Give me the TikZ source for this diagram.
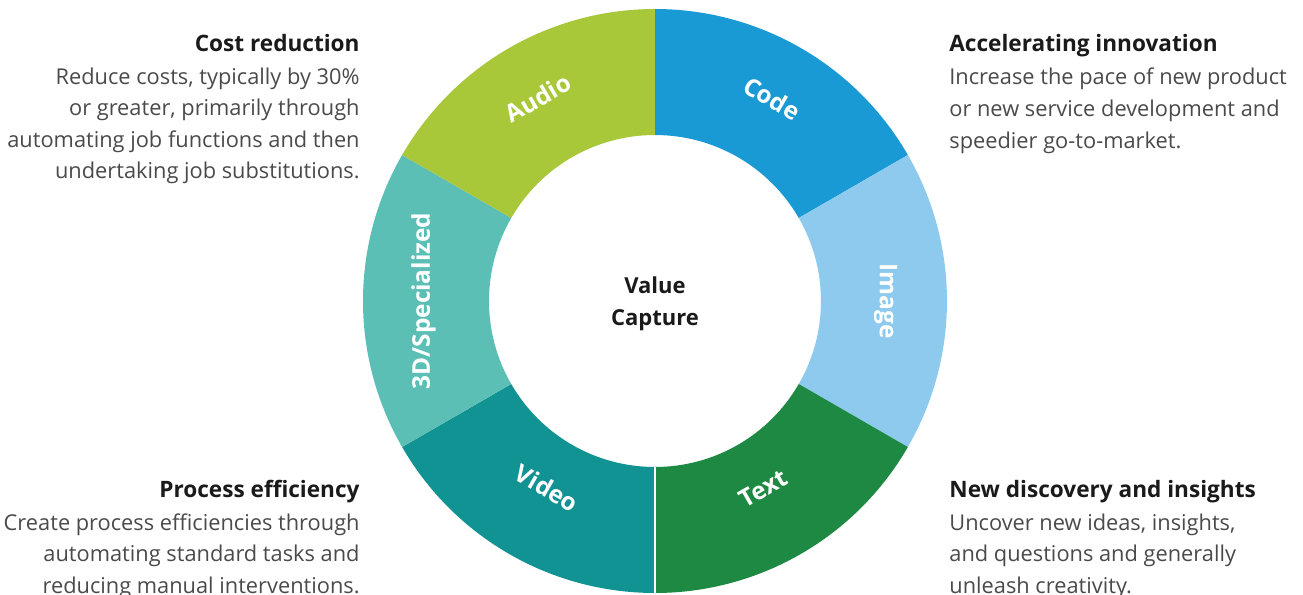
\documentclass[tikz,border=0pt]{standalone}
\usepackage{fontspec}
\setmainfont{Open Sans}
\definecolor{audiocol}{HTML}{A8C83A}
\definecolor{codecol}{HTML}{1A9AD5}
\definecolor{imagecol}{HTML}{8DCAEE}
\definecolor{textcol}{HTML}{1E8943}
\definecolor{videocol}{HTML}{129393}
\definecolor{specialcol}{HTML}{5BBFB5}
\definecolor{titlecol}{HTML}{1A1A1A}
\definecolor{bodycol}{HTML}{4A4A4A}
\tikzset{
  seglabel/.style={text=white, font=\fontsize{12.2}{14}\selectfont\bfseries, anchor=base, inner sep=0pt},
  blocktext/.style={text=bodycol, font=\fontsize{10.9}{15.75}\selectfont, inner sep=0pt},
  blocktitle/.style={text=titlecol, font=\bfseries}
}
\newcommand{\blockhead}[1]{{\color{titlecol}\fontsize{11.3}{15.75}\selectfont\bfseries #1}}
\begin{document}
\begin{tikzpicture}[x=0.5pt, y=0.5pt]
            \pgfmathsetmacro{\ro}{292};
            \pgfmathsetmacro{\ri}{166};
            \pgfmathsetmacro{\rl}{225};
            \useasboundingbox (-655, -294) rectangle (648, 301);
            % ring segments
            \foreach \s/\col/\lab/\rot/\nm in {30/codecol/Code/-30/code, -30/imagecol/Image/-90/image, -90/textcol/Text/30/text, 210/videocol/Video/-30/video, 150/specialcol/{3D/Specialized}/90/special, 90/audiocol/Audio/30/audio} {
                \fill [\col] (\s:\ro) arc (\s:\s+60:\ro) -- (\s+60:\ri) arc (\s+60:\s:\ri) -- cycle;
                \node [seglabel, rotate=\rot] (\nm) at (\s+30:\rl) {\lab};
            }
            \draw [white, line width=1pt] (270:\ri) -- (270:\ro);
            \node [text=titlecol, font=\fontsize{11}{16}\selectfont\bfseries, align=center] (value) at (0, -3) {Value\\Capture};
            % side texts, anchored at the baseline of their last line
            \node [blocktext, align=right, anchor=base east] (cost) at (-295, 122) {\blockhead{Cost reduction}\\[0.75pt] Reduce costs, typically by 30\%\\ or greater, primarily through\\ automating job functions and then\\ undertaking job substitutions.};
            \node [blocktext, align=left, anchor=base west] (accel) at (294, 153) {\blockhead{Accelerating innovation}\\[0.75pt] Increase the pace of new product\\ or new service development and\\ speedier go-to-market.};
            \node [blocktext, align=right, anchor=base east] (process) at (-295, -292) {\blockhead{Process efficiency}\\[0.75pt] Create process efficiencies through\\ automating standard tasks and\\ reducing manual interventions.};
            \node [blocktext, align=left, anchor=base west] (discovery) at (294, -292) {\blockhead{New discovery and insights}\\[0.75pt] Uncover new ideas, insights,\\ and questions and generally\\ unleash creativity.};
        \end{tikzpicture}
\end{document}
